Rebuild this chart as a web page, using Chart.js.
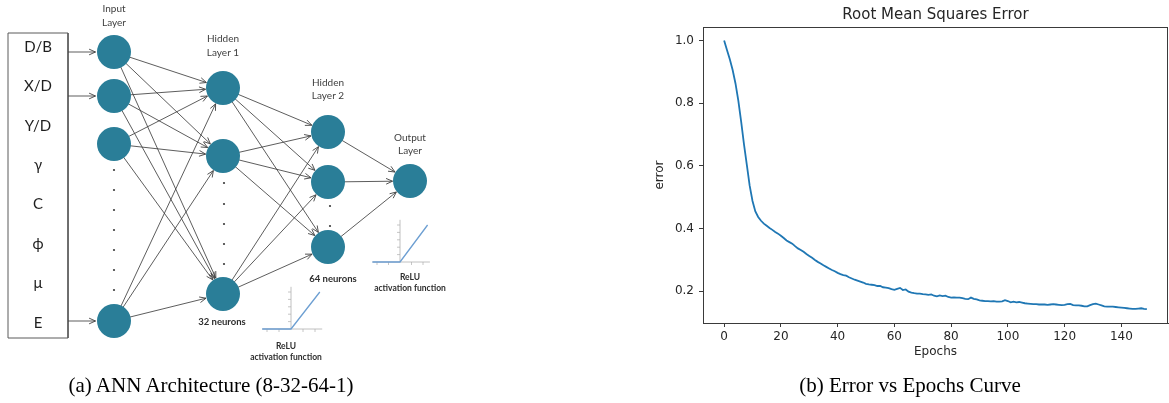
<!DOCTYPE html>
<html>
<head>
<meta charset="utf-8">
<script src="https://cdn.jsdelivr.net/npm/chart.js@4.4.0/dist/chart.umd.min.js"></script>
<style>
  html, body { margin: 0; padding: 0; background: #fff; }
  body { width: 1169px; height: 403px; position: relative; overflow: hidden; }
  #net { position: absolute; left: 0; top: 0; }
  #err { position: absolute; left: 640px; top: 0; }
  .cap { position: absolute; top: 373px; line-height: 24px; font-family: "Liberation Serif", "Times New Roman", serif;
         font-size: 21px; color: #000; white-space: nowrap; transform: translateX(-50%); }
</style>
</head>
<body>
<canvas id="net" width="470" height="403"></canvas>
<canvas id="err" width="529" height="403"></canvas>
<div class="cap" style="left:211px">(a) ANN Architecture (8-32-64-1)</div>
<div class="cap" style="left:910px">(b) Error vs Epochs Curve</div>

<script>
// ---------- network description ----------
const inputFeatures = ['D/B', 'X/D', 'Y/D', 'γ', 'C', 'ϕ', 'μ', 'E'];
const layerNames = [['Input', 'Layer'], ['Hidden', 'Layer 1'], ['Hidden', 'Layer 2'], ['Output', 'Layer']];
const layerSizes = [8, 32, 64, 1];
const neuronCaptions = ['', layerSizes[1] + ' neurons', layerSizes[2] + ' neurons', ''];
const activationName = ['ReLU', 'activation function'];

// ---------- training curve ----------
const rmse = [
  1.000, 0.970, 0.940, 0.906, 0.863, 0.808, 0.741, 0.669, 0.603, 0.537,
  0.488, 0.455, 0.437, 0.425, 0.416, 0.409, 0.402, 0.396, 0.389, 0.384,
  0.377, 0.370, 0.362, 0.357, 0.352, 0.344, 0.337, 0.332, 0.326, 0.319,
  0.313, 0.307, 0.300, 0.294, 0.289, 0.283, 0.278, 0.273, 0.268, 0.264,
  0.259, 0.255, 0.252, 0.250, 0.245, 0.241, 0.237, 0.234, 0.231, 0.228,
  0.224, 0.222, 0.221, 0.220, 0.217, 0.217, 0.213, 0.212, 0.210, 0.207,
  0.205, 0.208, 0.211, 0.204, 0.206, 0.199, 0.196, 0.194, 0.193, 0.193,
  0.191, 0.190, 0.189, 0.190, 0.186, 0.184, 0.187, 0.185, 0.186, 0.182,
  0.180, 0.181, 0.180, 0.180, 0.178, 0.176, 0.175, 0.180, 0.176, 0.174,
  0.171, 0.170, 0.169, 0.169, 0.168, 0.169, 0.167, 0.167, 0.168, 0.172,
  0.169, 0.165, 0.167, 0.165, 0.166, 0.164, 0.162, 0.161, 0.160, 0.159,
  0.159, 0.158, 0.158, 0.158, 0.157, 0.158, 0.159, 0.158, 0.157, 0.156,
  0.157, 0.159, 0.160, 0.156, 0.155, 0.155, 0.154, 0.152, 0.152, 0.156,
  0.159, 0.161, 0.158, 0.155, 0.152, 0.151, 0.151, 0.151, 0.150, 0.149,
  0.148, 0.147, 0.146, 0.145, 0.144, 0.144, 0.145, 0.146, 0.144, 0.143
];
const xTicks = [0, 20, 40, 60, 80, 100, 120, 140];
const yTicks = [0.2, 0.4, 0.6, 0.8, 1.0];

// ---------- diagram layout (pixel units of the diagram canvas) ----------
const NODE_R = 17;
const NODE_COLOR = '#2a7e98';
const EDGE_COLOR = '#404040';
const layerX = [114, 223, 328, 410];
const visibleNodeY = [[52, 96, 144, 321], [88, 156, 294], [132, 182, 247], [181]];
const ellipsisY = [[170, 190, 210, 230, 250, 270, 290], [183, 204, 224, 244, 264], [206, 226], []];
const ellipsisX = [114, 224, 330, 410];
const box = { left: 8, top: 33, right: 68, bottom: 338 };
const featureY0 = 47, featureStep = 39.4, featureX = 38;
const fedInputs = [[0, 0], [1, 1], [7, 3]];       // feature index -> input node index
const titleY = [[9, 23], [39, 53], [83, 96], [138, 151]];
const neuronCaptionPos = [null, [222, 322], [333, 279], null];
const reluPlots = [
  { ox: 291, oy: 329, sx: 12, sy: 14.8, capX: 286, capY: [346, 357] },
  { ox: 400, oy: 262, sx: 11.5, sy: 14.8, capX: 410, capY: [277, 288] }
];
const reluXRange = [-2.4, 2.6], reluYTop = 2.85;

const nodes = visibleNodeY.map((ys, l) => ys.map(y => ({ x: layerX[l], y })));

function link(a, b, r0, r1) {
  const dx = b.x - a.x, dy = b.y - a.y, L = Math.hypot(dx, dy);
  const ux = dx / L, uy = dy / L;
  return [{ x: a.x + ux * r0, y: a.y + uy * r0 }, { x: b.x - ux * r1, y: b.y - uy * r1 }];
}

const datasets = [];
// neurons
datasets.push({
  type: 'scatter', data: nodes.flat(), pointRadius: NODE_R, pointHoverRadius: NODE_R,
  backgroundColor: NODE_COLOR, borderWidth: 0, order: 0
});
// ellipsis dots
datasets.push({
  type: 'scatter', order: 1,
  data: ellipsisY.flatMap((ys, l) => ys.map(y => ({ x: ellipsisX[l], y }))),
  pointRadius: 1.1, backgroundColor: '#3a3a3a', borderWidth: 0
});
// fully connected links between the drawn neurons
for (let l = 0; l < nodes.length - 1; l++) {
  for (const a of nodes[l]) for (const b of nodes[l + 1]) {
    datasets.push({
      type: 'line', data: link(a, b, NODE_R - 1, NODE_R + 0.5), arrow: true,
      borderColor: EDGE_COLOR, borderWidth: 0.85, pointRadius: 0, order: 5
    });
  }
}
// feature box -> input neurons
for (const [f, n] of fedInputs) {
  const t = nodes[0][n];
  datasets.push({
    type: 'line', data: [{ x: box.right, y: t.y }, { x: t.x - NODE_R - 1.5, y: t.y }], arrow: true,
    borderColor: EDGE_COLOR, borderWidth: 0.85, pointRadius: 0, order: 5
  });
}
// feature box outline
datasets.push({
  type: 'line', order: 6, borderColor: '#5a5a5a', borderWidth: 1, pointRadius: 0,
  data: [{ x: box.left, y: box.top }, { x: box.right, y: box.top }, { x: box.right, y: box.bottom },
         { x: box.left, y: box.bottom }, { x: box.left, y: box.top }]
});
// ReLU activation sketches
for (const p of reluPlots) {
  const X = v => p.ox + v * p.sx, Y = v => p.oy - v * p.sy;
  datasets.push({ type: 'line', order: 7, borderColor: '#b0b0b0', borderWidth: 0.8, pointRadius: 0,
    data: [{ x: X(reluXRange[0]), y: Y(0) }, { x: X(reluXRange[1]), y: Y(0) }] });
  datasets.push({ type: 'line', order: 7, borderColor: '#b0b0b0', borderWidth: 0.8, pointRadius: 0,
    data: [{ x: X(0), y: Y(0) }, { x: X(0), y: Y(reluYTop) }] });
  datasets.push({ type: 'scatter', order: 7, pointStyle: 'line', rotation: 90, pointRadius: 1.5,
    borderColor: '#b8b8b8', borderWidth: 0.8,
    data: [-2, -1, 1, 2].map(v => ({ x: X(v), y: Y(0) + 1.5 })) });
  datasets.push({ type: 'scatter', order: 7, pointStyle: 'line', rotation: 0, pointRadius: 1.5,
    borderColor: '#b8b8b8', borderWidth: 0.8,
    data: [0.5, 1, 1.5, 2, 2.5].map(v => ({ x: X(0) - 1.5, y: Y(v) })) });
  datasets.push({ type: 'line', order: 3, borderColor: '#6d9fd2', borderWidth: 1.3, pointRadius: 0,
    data: [{ x: X(reluXRange[0]), y: Y(0) }, { x: X(0), y: Y(0) }, { x: X(2.4), y: Y(2.5) }] });
}

const arrowHeads = {
  id: 'arrowHeads',
  afterDatasetsDraw(chart) {
    const ctx = chart.ctx;
    ctx.save();
    chart.data.datasets.forEach((ds, i) => {
      if (!ds.arrow) return;
      const pts = chart.getDatasetMeta(i).data;
      const a = pts[pts.length - 2], b = pts[pts.length - 1];
      const ang = Math.atan2(b.y - a.y, b.x - a.x), len = 7, spread = 0.42;
      ctx.strokeStyle = ds.borderColor;
      ctx.lineWidth = 0.9;
      ctx.beginPath();
      ctx.moveTo(b.x - len * Math.cos(ang - spread), b.y - len * Math.sin(ang - spread));
      ctx.lineTo(b.x, b.y);
      ctx.lineTo(b.x - len * Math.cos(ang + spread), b.y - len * Math.sin(ang + spread));
      ctx.stroke();
    });
    ctx.restore();
  }
};

const diagramText = {
  id: 'diagramText',
  afterDraw(chart) {
    const ctx = chart.ctx;
    const sx = chart.scales.x, sy = chart.scales.y;
    const put = (t, x, y, font, color) => {
      ctx.font = font; ctx.fillStyle = color;
      ctx.fillText(t, sx.getPixelForValue(x), sy.getPixelForValue(y));
    };
    ctx.save();
    ctx.textAlign = 'center';
    ctx.textBaseline = 'middle';
    inputFeatures.forEach((t, i) => put(t, featureX, featureY0 + i * featureStep, '15px Lato, "Liberation Sans", sans-serif', '#1e1e1e'));
    layerNames.forEach((lines, l) => lines.forEach((t, k) =>
      put(t, layerX[l], titleY[l][k], '10px Lato, "Liberation Sans", sans-serif', '#3e3e3e')));
    neuronCaptions.forEach((t, l) => {
      if (t) put(t, neuronCaptionPos[l][0], neuronCaptionPos[l][1], 'bold 9.5px Lato, "Liberation Sans", sans-serif', '#2e2e2e');
    });
    for (const p of reluPlots) {
      activationName.forEach((t, k) => put(t, p.capX, p.capY[k], 'bold 8.5px Lato, "Liberation Sans", sans-serif', '#2e2e2e'));
    }
    ctx.restore();
  }
};

new Chart(document.getElementById('net'), {
  type: 'scatter',
  data: { datasets },
  options: {
    responsive: false, animation: false, events: [],
    layout: { padding: 0, autoPadding: false },
    plugins: { legend: { display: false }, tooltip: { enabled: false } },
    scales: {
      x: { type: 'linear', min: 0, max: 470, display: false },
      y: { type: 'linear', min: 0, max: 403, reverse: true, display: false }
    }
  },
  plugins: [arrowHeads, diagramText]
});

// ---------- error curve ----------
const axesFrame = {
  id: 'axesFrame',
  afterDraw(chart) {
    const { ctx, chartArea: a } = chart;
    ctx.save();
    ctx.strokeStyle = '#3a3a3a';
    ctx.lineWidth = 1;
    ctx.strokeRect(Math.round(a.left) + 0.5, Math.round(a.top) + 0.5,
                   Math.round(a.right - a.left) - 1, Math.round(a.bottom - a.top));
    ctx.restore();
  }
};
const plotTitle = {
  id: 'plotTitle',
  afterDraw(chart) {
    const { ctx, chartArea: a } = chart;
    ctx.save();
    ctx.font = '15px "DejaVu Sans", sans-serif';
    ctx.fillStyle = '#262626';
    ctx.textAlign = 'center';
    ctx.textBaseline = 'middle';
    ctx.fillText('Root Mean Squares Error', (a.left + a.right) / 2, 15);
    ctx.restore();
  }
};

const tickFont = { family: '"DejaVu Sans", sans-serif', size: 12 };
new Chart(document.getElementById('err'), {
  type: 'line',
  data: {
    datasets: [{
      data: rmse.map((v, i) => ({ x: i, y: v })),
      borderColor: '#1f77b4', borderWidth: 1.8, pointRadius: 0, tension: 0, fill: false
    }]
  },
  options: {
    responsive: false, animation: false, events: [],
    layout: { padding: { top: 27, right: 1, left: 0, bottom: 0 } },
    plugins: { legend: { display: false }, tooltip: { enabled: false } },
    scales: {
      x: {
        type: 'linear', min: -7.45, max: 156.45,
        afterBuildTicks: s => { s.ticks = xTicks.map(v => ({ value: v })); },
        afterFit: s => { s.height = 80; },
        grid: { drawOnChartArea: false, drawTicks: true, tickLength: 4, color: '#3a3a3a' },
        border: { display: true, color: '#3a3a3a', width: 1 },
        ticks: { padding: 3, color: '#262626', font: tickFont, maxRotation: 0, autoSkip: false, callback: v => String(v) },
        title: { display: true, text: 'Epochs', color: '#262626', font: tickFont, padding: { top: 0, bottom: 44 } }
      },
      y: {
        type: 'linear', min: 0.099, max: 1.043,
        afterBuildTicks: s => { s.ticks = yTicks.map(v => ({ value: v })); },
        afterFit: s => { s.width = 63; },
        grid: { drawOnChartArea: false, drawTicks: true, tickLength: 4, color: '#3a3a3a' },
        border: { display: true, color: '#3a3a3a', width: 1 },
        ticks: { padding: 5, color: '#262626', font: tickFont, autoSkip: false, callback: v => v.toFixed(1) },
        title: { display: true, text: 'error', color: '#262626', font: tickFont, padding: { top: 13, bottom: 0 } }
      }
    }
  },
  plugins: [axesFrame, plotTitle]
});
</script>
</body>
</html>
